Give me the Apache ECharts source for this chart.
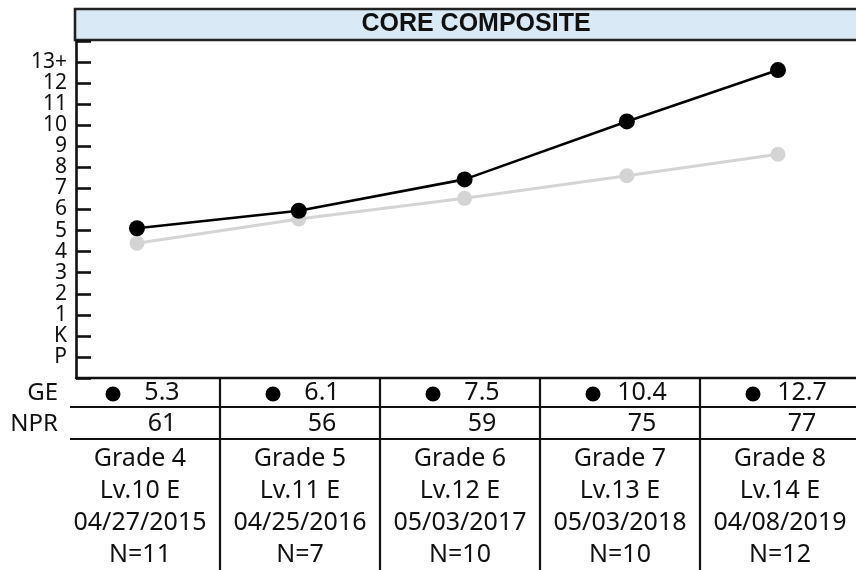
<!DOCTYPE html>
<html>
<head>
<meta charset="utf-8">
<script src="https://cdn.jsdelivr.net/npm/echarts@6/dist/echarts.min.js"></script>
<style>
  html, body { margin: 0; padding: 0; background: #fff; }
  #chart { width: 856px; height: 570px; }
</style>
</head>
<body>
<div id="chart"></div>
<script>
// test administrations
var grades = ['Grade 4', 'Grade 5', 'Grade 6', 'Grade 7', 'Grade 8'];
var levels = ['Lv.10 E', 'Lv.11 E', 'Lv.12 E', 'Lv.13 E', 'Lv.14 E'];
var testDates = ['04/27/2015', '04/25/2016', '05/03/2017', '05/03/2018', '04/08/2019'];
var nCounts = ['N=11', 'N=7', 'N=10', 'N=10', 'N=12'];

// table rows
var geScores = ['5.3', '6.1', '7.5', '10.4', '12.7'];
var nprScores = ['61', '56', '59', '75', '77'];

// plotted lines (K = 0, P = -1)
var studentLine = [5.11, 5.94, 7.43, 10.18, 12.62];
var normLine = [4.40, 5.55, 6.53, 7.60, 8.62];

// y ticks from P (-1) up to 13+
var yTickLabels = ['P', 'K', '1', '2', '3', '4', '5', '6', '7', '8', '9', '10', '11', '12', '13+'];

var DAY = 86400000;
function toTime(s) {
    var p = s.split('/');
    return Date.UTC(+p[2], +p[0] - 1, +p[1]);
}
var t0 = toTime(testDates[0]);

var font = '"Noto Sans", "DejaVu Sans", sans-serif';
var ink = '#111';

function txt(str, x, y, size, align, weight, family) {
    return {
        type: 'text',
        x: x, y: y,
        silent: true,
        style: {
            text: str,
            fontSize: size,
            fontFamily: family || font,
            fontWeight: weight || 'normal',
            fill: ink,
            align: align || 'center',
            verticalAlign: 'middle',
            textAlign: align || 'center',
            textVerticalAlign: 'middle'
        }
    };
}
function line(x1, y1, x2, y2) {
    return {
        type: 'line',
        silent: true,
        shape: { x1: x1, y1: y1, x2: x2, y2: y2 },
        style: { stroke: ink, lineWidth: 2.2 }
    };
}

var graphics = [];
// title bar
graphics.push({
    type: 'rect',
    silent: true,
    shape: { x: 75, y: 9, width: 830, height: 31 },
    style: { fill: '#d9e9f5', stroke: '#222', lineWidth: 2.6 }
});
graphics.push(txt('CORE COMPOSITE', 476, 24.5, 25, 'center', 'bold', '"Liberation Sans", Arial, sans-serif'));

// table rules
graphics.push(line(70, 407, 860, 407));
graphics.push(line(70, 439, 860, 439));
for (var k = 1; k < grades.length; k++) {
    var vx = 60 + 160 * k;
    graphics.push(line(vx, 377, vx, 572));
}
graphics.push(txt('GE', 58, 393, 24, 'right'));
graphics.push(txt('NPR', 58, 424, 24, 'right'));

for (var i = 0; i < grades.length; i++) {
    var cx = 140 + 160 * i;
    graphics.push({
        type: 'circle',
        silent: true,
        shape: { cx: cx - 27, cy: 394, r: 7.5 },
        style: { fill: '#000' }
    });
    graphics.push(txt(geScores[i], cx + 22, 393, 25));
    graphics.push(txt(nprScores[i], cx + 22, 424, 25));
    graphics.push(txt(grades[i], cx, 459, 25));
    graphics.push(txt(levels[i], cx, 491, 25));
    graphics.push(txt(testDates[i], cx, 523, 25));
    graphics.push(txt(nCounts[i], cx, 555, 25));
}

var myChart = echarts.init(document.getElementById('chart'), null, { renderer: 'canvas' });

var option = {
    backgroundColor: '#fff',
    animation: false,
    grid: { left: 76, right: 0, top: 41, bottom: 192 },
    xAxis: {
        type: 'time',
        min: t0 - 137.2 * DAY,
        max: t0 + 1617.5 * DAY,
        axisLine: { show: true, onZero: false, lineStyle: { color: ink, width: 2.4 } },
        axisTick: { show: false },
        axisLabel: { show: false },
        splitLine: { show: false }
    },
    yAxis: {
        type: 'value',
        min: -2,
        max: 14,
        interval: 1,
        axisLine: { show: true, lineStyle: { color: ink, width: 2.6 } },
        axisTick: { show: true, inside: true, length: 15, lineStyle: { color: ink, width: 2.6 } },
        axisLabel: {
            margin: 9,
            fontSize: 21,
            fontFamily: font,
            color: ink,
            formatter: function (v) {
                var idx = Math.round(v) + 1;
                return (idx >= 0 && idx < yTickLabels.length) ? yTickLabels[idx] : '';
            }
        },
        splitLine: { show: false }
    },
    series: [
        {
            type: 'line',
            name: 'norm',
            data: testDates.map(function (d, i) { return [toTime(d), normLine[i]]; }),
            symbol: 'circle',
            symbolSize: 15,
            lineStyle: { color: '#d4d4d4', width: 3 },
            itemStyle: { color: '#d4d4d4' },
            z: 2
        },
        {
            type: 'line',
            name: 'student',
            data: testDates.map(function (d, i) { return [toTime(d), studentLine[i]]; }),
            symbol: 'circle',
            symbolSize: 16,
            lineStyle: { color: '#000', width: 2.6 },
            itemStyle: { color: '#000' },
            z: 3
        }
    ],
    graphic: graphics
};
myChart.setOption(option);
</script>
</body>
</html>
